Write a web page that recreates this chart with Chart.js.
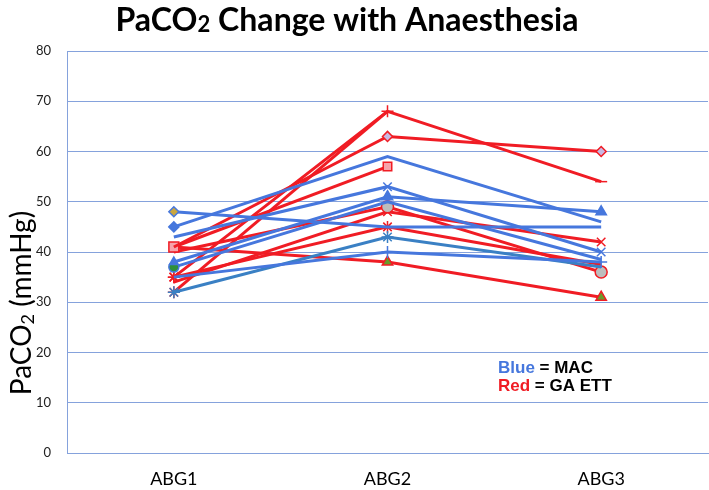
<!DOCTYPE html>
<html>
<head>
<meta charset="utf-8">
<script src="https://cdn.jsdelivr.net/npm/chart.js@4"></script>
<style>
  html, body { margin: 0; padding: 0; background: #fff; }
  #wrap { width: 709px; height: 490px; }
</style>
</head>
<body>
<div id="wrap"><canvas id="myChart" width="709" height="490"></canvas></div>
<script>
// data
const categories = ["ABG1", "ABG2", "ABG3"];
const yTicks = [0, 10, 20, 30, 40, 50, 60, 70, 80];

// MAC (blue)
const mac1 = [48, 45, 45];
const mac2 = [45, 59, 46];
const mac3 = [43, 53, 40];
const mac4 = [38, 51, 48];
const mac5 = [37, 50, 38.5];
const mac6 = [35, 40, 38];
const mac7 = [32, 43, 37];

// GA ETT (red)
const ga1 = [35, 68, 54];
const ga2 = [32, 68, null];
const ga3 = [41, 63, 60];
const ga4 = [41, 57, null];
const ga5 = [40, 49, 36];
const ga6 = [34, 48, 42];
const ga7 = [35, 45, 37.5];
const ga8 = [41, 38, 31];

const BLUE = "#4677dd";
const TEAL = "#3a80c4";
const RED = "#f01c24";
const GRID = "#85a2dc";

// markers sit well inside the plot, so no extra room is needed round it
Chart.registry.getController("line").prototype.getMaxOverflow = () => 0;

function series(data, color, style, radius, fill) {
  return {
    data: data,
    borderColor: color,
    backgroundColor: color,
    borderWidth: 3,
    pointStyle: style,
    pointRadius: radius,
    pointHoverRadius: radius,
    pointBackgroundColor: fill || color,
    pointBorderColor: color,
    pointBorderWidth: 1.5,
    tension: 0,
    spanGaps: false,
    clip: 10,
  };
}

const texts = {
  id: "texts",
  afterDraw(chart) {
    const ctx = chart.ctx;
    ctx.save();
    ctx.fillStyle = "#000";
    ctx.textBaseline = "alphabetic";

    // title with small 2, squeezed to the reference width
    const tMain = "bold 32px Lato", tSub = "bold 22px Lato";
    ctx.font = tMain;
    const w1 = ctx.measureText("PaCO").width;
    const w3 = ctx.measureText(" Change with Anaesthesia").width;
    ctx.font = tSub;
    const w2 = ctx.measureText("2").width;
    const total = w1 + w2 + w3;
    const k = 463 / total;
    ctx.translate(347 - 463 / 2, 31);
    ctx.scale(k, 1);
    ctx.font = tMain;
    ctx.fillText("PaCO", 0, 0);
    ctx.font = tSub;
    ctx.fillText("2", w1, 1);
    ctx.font = tMain;
    ctx.fillText(" Change with Anaesthesia", w1 + w2, 0);
    ctx.restore();

    // y axis title
    ctx.save();
    ctx.fillStyle = "#000";
    ctx.translate(22, 303);
    ctx.rotate(-Math.PI / 2);
    const yMain = "28px Lato", ySub = "18px Lato";
    ctx.font = yMain;
    const a1 = ctx.measureText("PaCO").width;
    const a3 = ctx.measureText(" (mmHg)").width;
    ctx.font = ySub;
    const a2 = ctx.measureText("2").width;
    let x = -(a1 + a2 + a3) / 2;
    ctx.textBaseline = "middle";
    ctx.font = yMain;
    ctx.fillText("PaCO", x, 0);
    ctx.font = ySub;
    ctx.fillText("2", x + a1, 6);
    ctx.font = yMain;
    ctx.fillText(" (mmHg)", x + a1 + a2, 0);
    ctx.restore();

    // key
    ctx.save();
    ctx.font = "bold 17px 'Liberation Sans'";
    ctx.textBaseline = "alphabetic";
    ctx.fillStyle = BLUE;
    ctx.fillText("Blue", 498, 373);
    let bw = ctx.measureText("Blue").width;
    ctx.fillStyle = "#000";
    ctx.fillText(" = MAC", 498 + bw, 373);
    ctx.fillStyle = RED;
    ctx.fillText("Red", 498, 391);
    bw = ctx.measureText("Red").width;
    ctx.fillStyle = "#000";
    ctx.fillText(" = GA ETT", 498 + bw, 391);
    ctx.restore();
  },
};

Chart.defaults.font.family = "Lato";

const chart = new Chart(document.getElementById("myChart"), {
  type: "line",
  plugins: [texts],
  data: {
    labels: categories,
    datasets: [
      series(mac1, BLUE, "rectRot", [5, 0, 0], "#c9a640"),
      series(mac2, BLUE, "rectRot", [5, 0, 0]),
      series(mac3, BLUE, "crossRot", [0, 6, 6]),
      series(mac4, BLUE, "triangle", [5, 6, 6]),
      series(mac5, BLUE, "circle", [5, 0, 0], "#2f8f3a"),
      series(mac6, BLUE, "cross", [0, 6, 6]),
      series(mac7, TEAL, "star", [6, 6, 0]),
      series(ga1, RED, ["star", "cross", "line"], [6, 6, 6]),
      series(ga2, RED, "star", [6, 0, 0]),
      series(ga3, RED, "rectRot", [0, 5, 5], "#c8b8e2"),
      series(ga4, RED, "rect", [7, 6, 0], "#f6a3aa"),
      series(ga5, RED, "circle", [0, 6, 6], "#bdbdbd"),
      series(ga6, RED, "crossRot", [0, 6, 6]),
      series(ga7, RED, "star", [6, 6, 0]),
      series(ga8, RED, "triangle", [0, 6, 6], "#6a9a2a"),
    ],
  },
  options: {
    responsive: false,
    animation: false,
    layout: { padding: { top: 51, right: 1, left: 0, bottom: 0 } },
    plugins: {
      legend: { display: false },
      title: { display: false },
      tooltip: { enabled: false },
    },
    scales: {
      x: {
        offset: true,
        grid: { display: false },
        border: { color: GRID, width: 1 },
        ticks: { color: "#000", font: { size: 18 }, padding: 7 },
        afterFit(scale) {
          scale.height = 37;
          scale.paddingLeft = 0;
          scale.paddingRight = 0;
        },
      },
      y: {
        min: 0,
        max: 80,
        afterBuildTicks(scale) { scale.ticks = yTicks.map(v => ({ value: v })); },
        grid: { color: GRID, lineWidth: 1, drawTicks: false },
        border: { color: GRID, width: 1 },
        ticks: { color: "#222", font: { size: 13 }, padding: 16 },
        afterFit(scale) {
          scale.width = 67;
          scale.paddingTop = 0;
          scale.paddingBottom = 0;
        },
      },
    },
  },
});
</script>
</body>
</html>
